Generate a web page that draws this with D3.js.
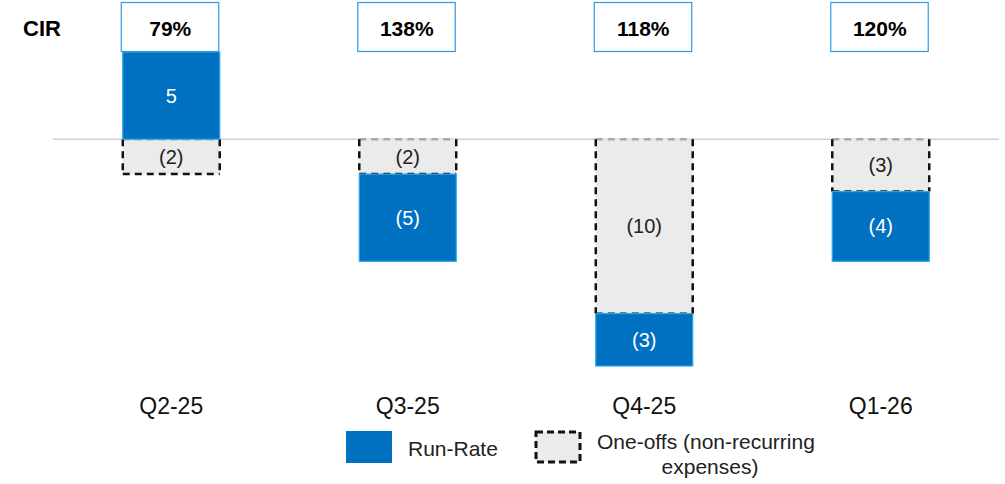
<!DOCTYPE html>
<html>
<head>
<meta charset="utf-8">
<script src="https://cdn.jsdelivr.net/npm/d3@7"></script>
<style>
  body { margin: 0; background: #fff; }
  svg { font-family: Arial, "Liberation Sans", sans-serif; }
</style>
</head>
<body>
<div id="chart"></div>
<script>
const quarters = ["Q2-25", "Q3-25", "Q4-25", "Q1-26"];
const runRate = [5, -5, -3, -4];
const oneOffs = [-2, -2, -10, -3];
const cir = ["79%", "138%", "118%", "120%"];

const width = 1005, height = 484;
const blue = "#0070C0", blueEdge = "#29A8E8", grey = "#EBEBEB";

const svg = d3.select("#chart").append("svg")
  .attr("width", width).attr("height", height);

const x = d3.scaleBand()
  .domain(quarters)
  .range([53, 999])
  .paddingInner(0.59)
  .paddingOuter(0.295);

const y = d3.scaleLinear()
  .domain([-13, 5])
  .range([366, 52]);

const fmt = v => v < 0 ? `(${Math.abs(v)})` : `${v}`;

// stack: one-offs sit next to zero when negative, run-rate beyond them
const stacks = quarters.map((q, i) => {
  const r = runRate[i], o = oneOffs[i];
  const segs = [];
  if (r >= 0) {
    segs.push({ key: "run", y0: 0, y1: r, v: r });
    segs.push({ key: "one", y0: 0, y1: o, v: o });
  } else {
    segs.push({ key: "one", y0: 0, y1: o, v: o });
    segs.push({ key: "run", y0: o, y1: o + r, v: r });
  }
  return { q, segs };
});

// zero line
svg.append("line")
  .attr("x1", 53).attr("x2", 999)
  .attr("y1", y(0)).attr("y2", y(0))
  .attr("stroke", "#d0d0d0").attr("stroke-width", 1.5);

const bw = x.bandwidth();

stacks.forEach(s => {
  const x0 = x(s.q);
  s.segs.filter(d => d.key === "one").forEach(d => {
    const top = y(Math.max(d.y0, d.y1)), bot = y(Math.min(d.y0, d.y1));
    const g = svg.append("g");
    g.append("rect").attr("x", x0).attr("y", top).attr("width", bw).attr("height", bot - top)
      .attr("fill", grey);
    const dash = (x1, y1, x2, y2, c) => g.append("line")
      .attr("x1", x1).attr("y1", y1).attr("x2", x2).attr("y2", y2)
      .attr("stroke", c).attr("stroke-width", 2.5).attr("stroke-dasharray", "7,5");
    dash(x0, top, x0 + bw, top, "#aaa");
    dash(x0, top, x0, bot, "#111");
    dash(x0 + bw, top, x0 + bw, bot, "#111");
    dash(x0, bot, x0 + bw, bot, "#111");
    g.append("text").attr("x", x0 + bw / 2).attr("y", (top + bot) / 2 + 7)
      .attr("text-anchor", "middle").attr("font-size", 20).attr("fill", "#222")
      .text(fmt(d.v));
  });
  s.segs.filter(d => d.key === "run").forEach(d => {
    const top = y(Math.max(d.y0, d.y1)), bot = y(Math.min(d.y0, d.y1));
    svg.append("rect").attr("x", x0).attr("y", top).attr("width", bw).attr("height", bot - top)
      .attr("fill", blue).attr("stroke", blueEdge).attr("stroke-width", 1.2);
    svg.append("text").attr("x", x0 + bw / 2).attr("y", (top + bot) / 2 + 7)
      .attr("text-anchor", "middle").attr("font-size", 20).attr("fill", "#fff")
      .text(fmt(d.v));
  });
});

// CIR row
svg.append("text").attr("x", 23).attr("y", 36)
  .attr("font-size", 22).attr("font-weight", "bold").text("CIR");

quarters.forEach((q, i) => {
  svg.append("rect").attr("x", x(q) - 1.5).attr("y", 2.5).attr("width", bw + 0.5).attr("height", 49)
    .attr("fill", "#fff").attr("stroke", "#2E9BE6").attr("stroke-width", 1.2);
  svg.append("text").attr("x", x(q) + bw / 2 - 1).attr("y", 36)
    .attr("text-anchor", "middle").attr("font-size", 21).attr("font-weight", "bold")
    .text(cir[i]);
});

// category axis labels
svg.append("g").attr("transform", "translate(0,414)")
  .call(d3.axisBottom(x).tickSize(0).tickPadding(0))
  .call(g => g.select(".domain").remove())
  .call(g => g.selectAll("text").attr("font-size", 23).attr("fill", "#111")
    .attr("font-family", "Arial, 'Liberation Sans', sans-serif").attr("dy", 0));

// legend
svg.append("rect").attr("x", 346).attr("y", 431).attr("width", 46).attr("height", 32).attr("fill", blue);
svg.append("text").attr("x", 408).attr("y", 456).attr("font-size", 21).attr("fill", "#222").text("Run-Rate");

svg.append("rect").attr("x", 536).attr("y", 432).attr("width", 44).attr("height", 30)
  .attr("fill", grey).attr("stroke", "#111").attr("stroke-width", 3).attr("stroke-dasharray", "7,4");
svg.append("text").attr("x", 597).attr("y", 449).attr("font-size", 21).attr("fill", "#222")
  .text("One-offs (non-recurring");
svg.append("text").attr("x", 710).attr("y", 474).attr("text-anchor", "middle")
  .attr("font-size", 21).attr("fill", "#222").text("expenses)");
</script>
</body>
</html>
